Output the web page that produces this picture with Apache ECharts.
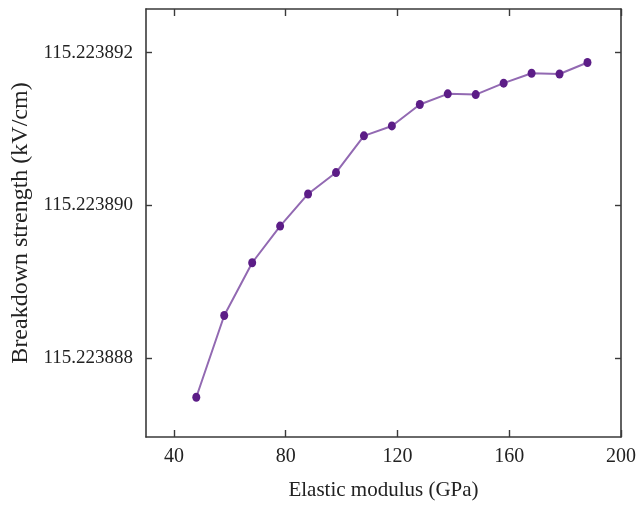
<!DOCTYPE html>
<html>
<head>
<meta charset="utf-8">
<script src="https://cdn.jsdelivr.net/npm/echarts@6/dist/echarts.min.js"></script>
<style>html,body{margin:0;padding:0;background:#fff}#c{width:638px;height:506px}</style>
</head>
<body>
<div id="c"></div>
<script>
var modulus = [48, 58, 68, 78, 88, 98, 108, 118, 128, 138, 148, 158, 168, 178, 188];
var strength = [115.22388749, 115.22388856, 115.22388925, 115.22388973, 115.22389015,
  115.22389043, 115.22389091, 115.22389104, 115.22389132, 115.22389146,
  115.22389145, 115.22389160, 115.22389173, 115.22389172, 115.22389187];
var xTicks = [40, 80, 120, 160, 200];
var yTicks = [115.223888, 115.223890, 115.223892];

var font = 'Liberation Serif';
var axisColor = '#3a3a3a';
var chart = echarts.init(document.getElementById('c'), null, {renderer: 'canvas'});
var data = modulus.map(function (x, i) { return [x, strength[i]]; });
function xAxisDef(pos, show) {
  return {
    type: 'value', position: pos, min: 30, max: 200,
    name: show ? 'Elastic modulus (GPa)' : '', nameLocation: 'middle', nameGap: 43,
    nameTextStyle: {fontFamily: font, fontSize: 21, color: '#222'},
    axisLine: {show: true, onZero: false, lineStyle: {color: axisColor, width: 1.6}},
    axisTick: {show: true, inside: true, length: 7, customValues: xTicks, lineStyle: {color: axisColor, width: 1.4}},
    axisLabel: {show: show, customValues: xTicks, margin: 10, fontFamily: font, fontSize: 20, color: '#222'},
    splitLine: {show: false}
  };
}
function yAxisDef(pos, show) {
  return {
    type: 'value', position: pos, min: 115.22388697, max: 115.22389257,
    name: show ? 'Breakdown strength (kV/cm)' : '', nameLocation: 'middle', nameGap: 113,
    nameTextStyle: {fontFamily: font, fontSize: 24, color: '#222'},
    axisLine: {show: true, onZero: false, lineStyle: {color: axisColor, width: 1.6}},
    axisTick: {show: true, inside: true, length: 6, customValues: yTicks, lineStyle: {color: axisColor, width: 1.4}},
    axisLabel: {show: show, customValues: yTicks, margin: 13, fontFamily: font, fontSize: 19, color: '#222',
      formatter: function (v) { return Number(v).toFixed(6); }},
    splitLine: {show: false}
  };
}
chart.setOption({
  animation: false,
  grid: {left: 146, right: 17, top: 9, bottom: 69, containLabel: false, outerBoundsMode: 'none'},
  xAxis: [xAxisDef('bottom', true), xAxisDef('top', false)],
  yAxis: [yAxisDef('left', true), yAxisDef('right', false)],
  series: [{
    type: 'line', data: data, xAxisIndex: 0, yAxisIndex: 0,
    symbol: 'circle', symbolSize: [8, 9],
    lineStyle: {color: '#9269b2', width: 2},
    itemStyle: {color: '#5c1d87', borderWidth: 0}
  }]
});
</script>
</body>
</html>
